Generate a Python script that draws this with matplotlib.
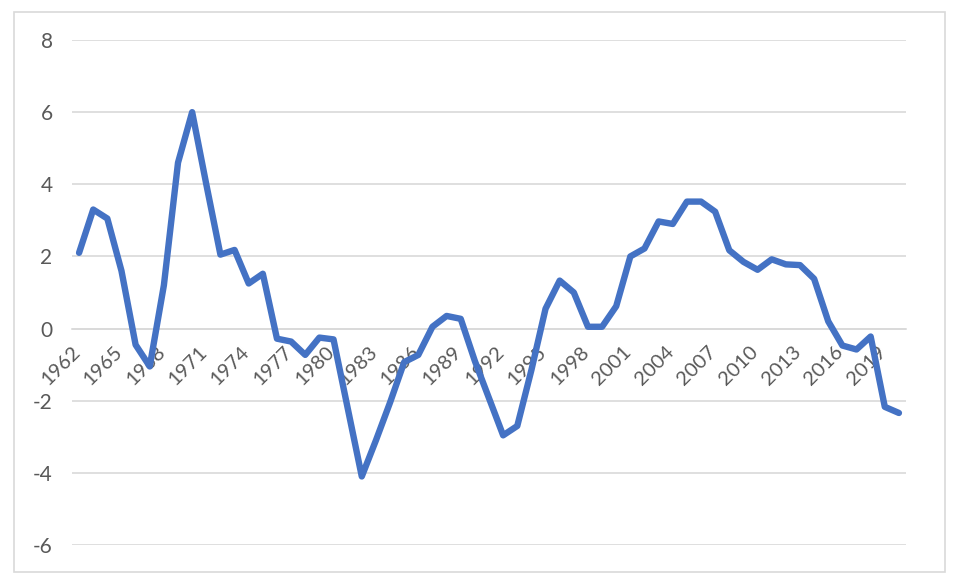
import matplotlib
matplotlib.use('Agg')
import matplotlib.pyplot as plt
from matplotlib.patches import Rectangle
from matplotlib.transforms import ScaledTranslation

# yearly series
years = list(range(1962, 2021))
values = [2.1, 3.3, 3.05, 1.6, -0.45, -1.05, 1.2, 4.6, 6.0,
	4.0, 2.05, 2.18, 1.25, 1.52, -0.28, -0.36, -0.73, -0.25, -0.3,
	-2.2, -4.1, -3.1, -2.05, -0.93, -0.73, 0.05, 0.35, 0.27, -0.9,
	-1.93, -2.96, -2.7, -1.15, 0.55, 1.33, 1.0, 0.05, 0.05, 0.62,
	2.0, 2.22, 2.97, 2.9, 3.52, 3.52, 3.24, 2.17, 1.85, 1.63,
	1.92, 1.78, 1.76, 1.38, 0.2, -0.47, -0.58, -0.22, -2.17, -2.34]
y_ticks = [-6, -4, -2, 0, 2, 4, 6, 8]
label_step = 3

plt.rcParams['font.family'] = ['Lato', 'DejaVu Sans']
text_color = '#595959'
grid_color = '#D9D9D9'

fig = plt.figure(figsize=(9.6, 5.86), dpi=100)
fig.patches.append(Rectangle((14/960, 1-572/586), (945-14)/960, (572-12)/586,
	transform=fig.transFigure, fill=False, edgecolor=grid_color, linewidth=1.2))

ax = fig.add_axes([72/960, 1-545/586, (906-72)/960, (545-40)/586])

xs = list(range(len(years)))
ax.plot(xs, values, color='#4472C4', linewidth=4.6,
	solid_joinstyle='round', solid_capstyle='round', zorder=3)

ax.set_xlim(-0.5, len(years) - 0.5)
ax.set_ylim(min(y_ticks), max(y_ticks))
ax.set_yticks(y_ticks)
ax.set_yticklabels([str(t) for t in y_ticks])
ax.yaxis.grid(True, color=grid_color, linewidth=1.2)
ax.set_axisbelow(True)

for s in ['top', 'right', 'left']:
	ax.spines[s].set_visible(False)
# category axis crosses at zero
ax.spines['bottom'].set_position(('data', 0))
ax.spines['bottom'].set_color(grid_color)
ax.spines['bottom'].set_linewidth(1.2)

tick_pos = xs[::label_step]
ax.set_xticks(tick_pos)
ax.set_xticklabels([str(years[i]) for i in tick_pos], rotation=45,
	ha='right', va='top')
ax.tick_params(axis='x', length=0, pad=10.5, labelsize=14.5, labelcolor=text_color)
ax.tick_params(axis='y', length=0, pad=14, labelsize=15, labelcolor=text_color)
# nudge the slanted year labels a little to the right
shift = ScaledTranslation(3/72, 0, fig.dpi_scale_trans)
for lab in ax.get_xticklabels():
	lab.set_transform(lab.get_transform() + shift)

fig.savefig('out.png', dpi=100)
